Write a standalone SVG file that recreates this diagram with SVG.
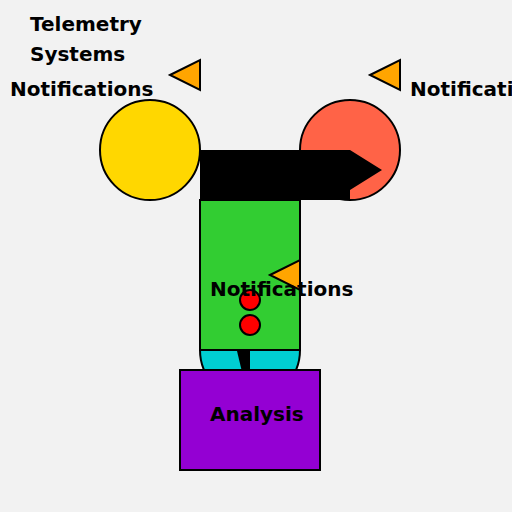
<svg xmlns="http://www.w3.org/2000/svg" width="512" height="512" viewBox="0 0 512 512">
<style>
.t{font-family:"DejaVu Sans",sans-serif;font-weight:bold;font-size:20px;fill:#000}
.s{stroke:#000;stroke-width:2}
.tri{fill:#ffa500;stroke:#000;stroke-width:2}
</style>
<rect width="512" height="512" fill="#f2f2f2"/>
<g id="yellow"><circle cx="150" cy="150" r="50" fill="#ffd700" class="s"/></g>
<g id="red"><circle cx="350" cy="150" r="50" fill="#ff6347" class="s"/></g>
<g id="connectors">
<path d="M200,150 H350 L382,170 L350,190 V200 H200 Z" fill="#000"/>
</g>
<g id="cyan"><circle cx="250" cy="350" r="50" fill="#00ced1" class="s"/></g>
<g id="green"><rect x="200" y="200" width="100" height="150" fill="#32cd32" class="s"/></g>
<g id="wedge"><polygon points="237,351 250,351 250,372 242,372" fill="#000"/></g>
<g id="analysis"><rect x="180" y="370" width="140" height="100" fill="#9400d3" class="s"/>
<text x="210" y="421" class="t">Analysis</text></g>
<g id="dots"><circle cx="250" cy="300" r="10" fill="#ff0000" class="s"/><circle cx="250" cy="325" r="10" fill="#ff0000" class="s"/></g>
<g id="tri1"><polygon points="170,75 200,60 200,90" class="tri"/></g>
<g id="tri2"><polygon points="370,75 400,60 400,90" class="tri"/></g>
<g id="tri3"><polygon points="270,275 300,260 300,290" class="tri"/></g>
<g id="labels">
<text x="30" y="31" class="t">Telemetry</text>
<text x="30" y="61" class="t">Systems</text>
<text x="10" y="96" class="t">Notifications</text>
<text x="410" y="96" class="t">Notifications</text>
<text x="210" y="296" class="t">Notifications</text>
</g>
</svg>
